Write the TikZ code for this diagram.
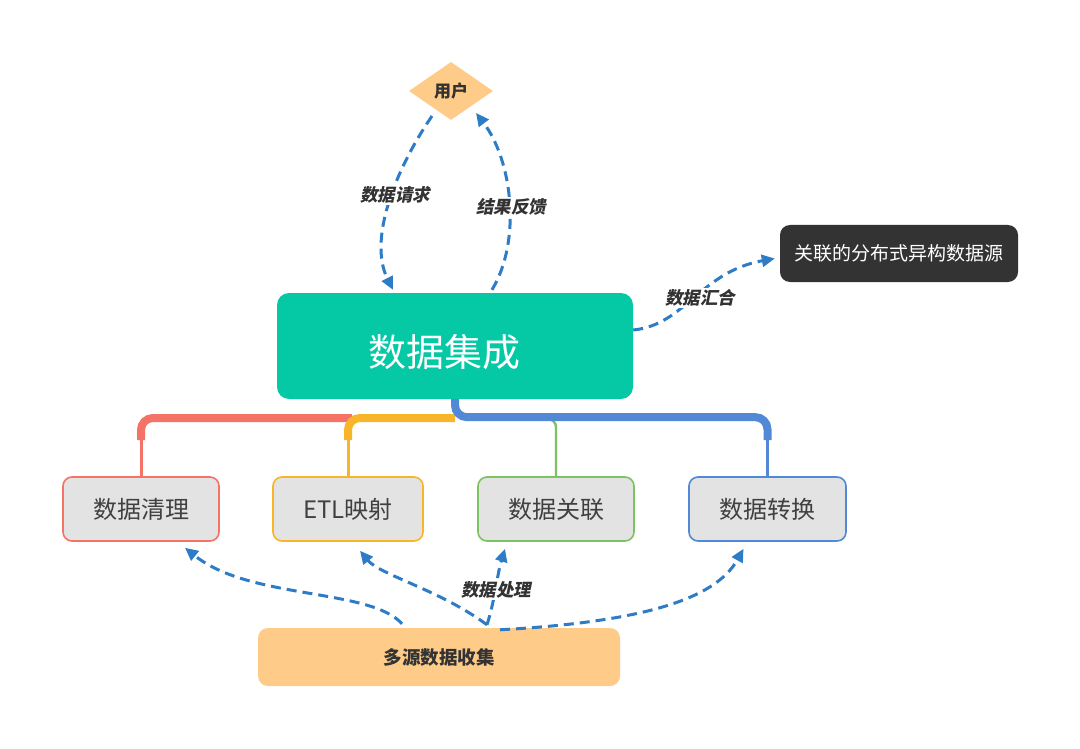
\documentclass[tikz,border=0pt]{standalone}
\usepackage{fontspec}
\setmainfont{Noto Sans CJK SC}
\newfontfamily\cjksl[FakeSlant=0.2]{Noto Sans CJK SC}
\usetikzlibrary{shapes.geometric,arrows.meta,calc}
\definecolor{teal}{HTML}{05C8A5}
\definecolor{darkbox}{HTML}{333333}
\definecolor{peach}{HTML}{FECB88}
\definecolor{graybox}{HTML}{E3E3E3}
\definecolor{cred}{HTML}{F47266}
\definecolor{corange}{HTML}{F8B52A}
\definecolor{cgreen}{HTML}{7CC262}
\definecolor{cblue}{HTML}{5189D6}
\definecolor{arrowblue}{HTML}{2E7BC6}
\definecolor{txt}{HTML}{404040}
\tikzset{
  subbox/.style={draw, line width=1.6pt, fill=graybox, rounded corners=9pt,
    minimum height=64pt, text=txt, font=\fontsize{24}{26}\selectfont, inner sep=0pt},
  dasharrow/.style={draw=arrowblue, line width=3pt, dash pattern=on 10pt off 6pt,
    -{Triangle[length=13pt,width=12pt]}},
  lbl/.style={fill=white, inner sep=2pt, text=darkbox, font=\cjksl\bfseries\fontsize{17.5}{19}\selectfont},
}
\begin{document}
\begin{tikzpicture}[x=1pt,y=-1pt]
\useasboundingbox[fill=white] (0,0) rectangle (1080,749);
% nodes
\node[diamond, fill=peach, minimum width=84pt, minimum height=58pt, inner sep=0pt,
  font=\bfseries\fontsize{17}{19}\selectfont, text=darkbox] (user) at (451,91) {用户};
\node[fill=teal, rounded corners=12pt, minimum width=356pt, minimum height=106pt,
  text=white, font=\fontsize{38}{42}\selectfont] (main) at (455,346) {\raisebox{-20pt}[0pt][0pt]{\hspace*{-22pt}数据集成}};
\node[fill=darkbox, rounded corners=10pt, minimum width=238pt, minimum height=57pt,
  text=white, font=\fontsize{19}{21}\selectfont] (dark) at (899,253.5) {关联的分布式异构数据源};
\node[fill=peach, rounded corners=10pt, minimum width=362pt, minimum height=58pt,
  text=darkbox, font=\bfseries\fontsize{18.5}{20}\selectfont] (src) at (439,657) {多源数据收集};
\node[subbox, draw=cred, minimum width=156pt] (clean) at (141,509) {数据清理};
\node[subbox, draw=corange, minimum width=150pt] (etl) at (348,509) {ETL映射};
\node[subbox, draw=cgreen, minimum width=156pt] (rel) at (556,509) {数据关联};
\node[subbox, draw=cblue, minimum width=157pt] (conv) at (767.5,509) {数据转换};
% bus
\draw[cred, line width=3pt] (clean.north) -- ($(clean.north)+(0,-40)$);
\draw[cred, line width=8pt, rounded corners=12pt] ($(clean.north)+(0,-36)$) |- (352,418);
\draw[corange, line width=3pt] (etl.north) -- ($(etl.north)+(0,-40)$);
\draw[corange, line width=8pt, rounded corners=12pt] ($(etl.north)+(0,-36)$) |- (455,418);
\draw[cgreen, line width=2.4pt, rounded corners=8pt] (rel.north) |- (540,419);
\draw[cblue, line width=3.5pt] (conv.north) -- ($(conv.north)+(0,-40)$);
\draw[cblue, line width=8pt, rounded corners=12pt] (main.south) |- ($(conv.north)+(0,-59)$) -- ($(conv.north)+(0,-36)$);
% arrows
\draw[dasharrow] ($(user.center)+(-19,25)$) .. controls (395,170) and (368,240) .. ($(main.north)+(-62,-3)$);
\draw[dasharrow] ($(main.north)+(37,-3)$) .. controls (522,240) and (512,160) .. ($(user.center)+(25,22)$);
\draw[dasharrow] ($(main.east)+(0,-16)$) .. controls (685,325) and (700,272) .. ($(dark.west)+(-5,5)$);
\draw[dasharrow] ($(src.north)+(-37,-4)$) .. controls (370,588) and (250,600) .. ($(clean.south)+(44,6)$);
\draw[dasharrow] ($(src.north)+(48,-3)$) .. controls (440,590) and (380,575) .. ($(etl.south)+(12,9)$);
\draw[dasharrow] ($(src.north)+(48,-3)$) .. controls (495,600) and (497,575) .. ($(rel.south)+(-51,7)$);
\draw[dasharrow] ($(src.north)+(61,2)$) .. controls (640,622) and (715,600) .. ($(conv.south)+(-24,7)$);
% labels
\node[lbl] (l1) at (395,195) {数据请求};
\node[lbl] (l2) at (511,207) {结果反馈};
\node[lbl] (l3) at (700,298) {数据汇合};
\node[lbl] (l4) at (496,590) {数据处理};
\end{tikzpicture}
\end{document}
